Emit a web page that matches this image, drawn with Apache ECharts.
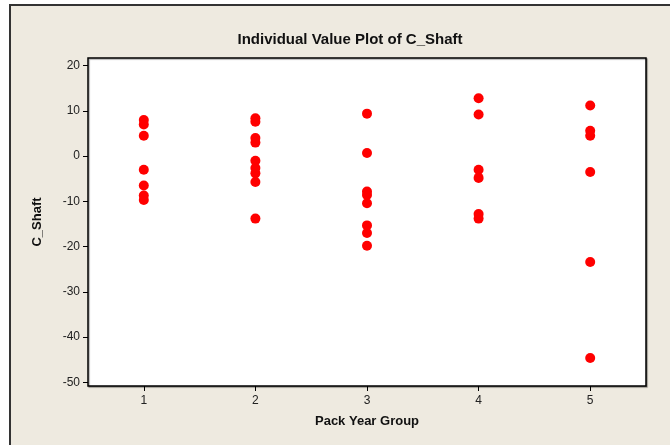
<!DOCTYPE html>
<html lang="en">
<head>
    <meta charset="UTF-8">
    <title>Individual Value Plot of C_Shaft</title>
    <script src="https://cdn.jsdelivr.net/npm/echarts@6/dist/echarts.min.js"></script>
    <style>
        html, body {
            margin: 0;
            padding: 0;
            background: #ffffff;
        }
    </style>
</head>
<body>
<div id="main" style="width: 670px;height:445px;"></div>
<script>
    // 数据：每组的 C_Shaft 值
    var groups = [1, 2, 3, 4, 5];
    var group1 = [8, 7, 4.5, -3, -6.5, -8.7, -9.7];
    var group2 = [8.4, 7.6, 4, 3, -1, -2.6, -3.8, -5.7, -13.8];
    var group3 = [9.4, 0.7, -7.8, -8.6, -10.4, -15.3, -17, -19.8];
    var group4 = [12.8, 9.2, -3, -4.8, -12.8, -13.8];
    var group5 = [11.2, 5.6, 4.5, -3.5, -23.4, -44.6];
    var yTicks = [20, 10, 0, -10, -20, -30, -40, -50];

    var allGroups = [group1, group2, group3, group4, group5];
    var points = [];
    allGroups.forEach(function (vals, i) {
        vals.forEach(function (v) {
            points.push([groups[i], v]);
        });
    });

    var myChart = echarts.init(document.getElementById('main'));
    var labelFont = 'Liberation Sans, Arial, sans-serif';
    var option = {
        backgroundColor: '#ffffff',
        animation: false,
        graphic: [
            {
                type: 'rect',
                z: -10,
                shape: {x: 10, y: 5, width: 700, height: 500},
                style: {fill: '#eeeae0', stroke: '#333333', lineWidth: 2}
            }
        ],
        title: {
            text: 'Individual Value Plot of C_Shaft',
            left: 345,
            top: 27,
            textAlign: 'center',
            textStyle: {
                fontFamily: labelFont,
                fontSize: 15,
                fontWeight: 'bold',
                color: '#111111'
            }
        },
        grid: {
            left: 88,
            top: 58,
            right: 24,
            bottom: 59,
            show: true,
            backgroundColor: '#ffffff',
            borderColor: '#000000',
            borderWidth: 1.5,
            shadowColor: 'rgba(0,0,0,0.35)',
            shadowOffsetX: 1,
            shadowOffsetY: 1,
            shadowBlur: 1
        },
        xAxis: {
            type: 'value',
            min: 0.5,
            max: 5.5,
            name: 'Pack Year Group',
            nameLocation: 'middle',
            nameGap: 29,
            nameTextStyle: {
                fontFamily: labelFont,
                fontSize: 13,
                fontWeight: 'bold',
                color: '#111111'
            },
            axisLine: {show: false, onZero: false},
            splitLine: {show: false},
            axisTick: {
                show: true,
                length: 5,
                customValues: groups,
                lineStyle: {color: '#000000'}
            },
            axisLabel: {
                customValues: groups,
                margin: 9,
                fontFamily: labelFont,
                fontSize: 12,
                color: '#222222'
            }
        },
        yAxis: {
            type: 'value',
            min: -50.8,
            max: 21.7,
            name: 'C_Shaft',
            nameLocation: 'middle',
            nameGap: 44,
            nameTextStyle: {
                fontFamily: labelFont,
                fontSize: 13,
                fontWeight: 'bold',
                color: '#111111'
            },
            axisLine: {show: false, onZero: false},
            splitLine: {show: false},
            axisTick: {
                show: true,
                length: 5,
                customValues: yTicks,
                lineStyle: {color: '#000000'}
            },
            axisLabel: {
                customValues: yTicks,
                margin: 8,
                fontFamily: labelFont,
                fontSize: 12,
                color: '#222222'
            }
        },
        series: [
            {
                name: 'C_Shaft',
                type: 'scatter',
                symbol: 'circle',
                symbolSize: 10,
                itemStyle: {color: '#ff0000', opacity: 1},
                data: points
            }
        ]
    };
    myChart.setOption(option);
</script>
</body>
</html>
